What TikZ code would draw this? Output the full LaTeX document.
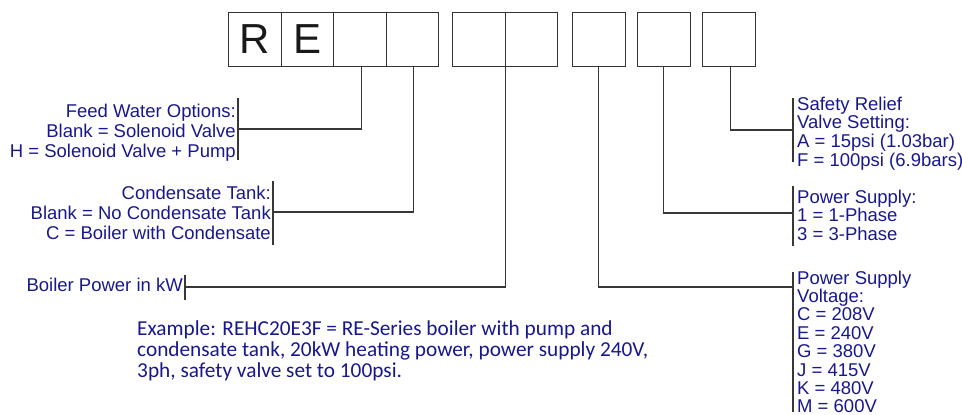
\documentclass[tikz,border=0pt]{standalone}
\usepackage{fontspec}
\setmainfont{Liberation Sans}
\newfontfamily\exfont{Carlito}
\definecolor{lblc}{RGB}{24,24,140}
\definecolor{lnc}{RGB}{55,55,55}
\begin{document}
\begin{tikzpicture}[x=1pt,y=-1pt,
  digit/.style={draw=black!80, line width=1.1pt, minimum width=52.5pt, minimum height=54pt,
    inner sep=0pt, anchor=north west, font=\fontsize{42}{42}\selectfont, text=black!90},
  lbl/.style={text=lblc, font=\fontsize{18.5}{18.7}\selectfont, inner sep=0pt},
  lbll/.style={lbl, font=\fontsize{18.5}{20}\selectfont, align=right},
  lblr/.style={lbl, align=left, anchor=north west},
  conn/.style={draw=lnc, line width=1.2pt},
  bar/.style={draw=lnc, line width=1.2pt}]
\useasboundingbox (0,0) rectangle (962,415);
% code boxes
\node[digit] (b1) at (228,12) {R};
\node[digit] (b2) at (280.5,12) {E};
\node[digit] (b3) at (333,12) {};
\node[digit] (b4) at (385.5,12) {};
\node[digit] (b5) at (452,12) {};
\node[digit] (b6) at (504.5,12) {};
\node[digit] (b7) at (572,12) {};
\node[digit] (b8) at (637,12) {};
\node[digit] (b9) at (702,12) {};
% left labels
\node[lbll, anchor=north east] (fw) at (236,103.5) {Feed Water Options:\\Blank = Solenoid Valve\\H = Solenoid Valve + Pump};
\node[lbll, anchor=north east] (ct) at (271,185.5) {Condensate Tank:\\Blank = No Condensate Tank\\C = Boiler with Condensate};
\node[lbll, anchor=east] (bp) at (183,285) {Boiler Power in kW};
% right labels
\node[lblr] (sr) at (797,96.5) {Safety Relief\\Valve Setting:\\A = 15psi (1.03bar)\\F = 100psi (6.9bars)};
\node[lblr] (ps) at (797,189.5) {Power Supply:\\1 = 1-Phase\\3 = 3-Phase};
\node[lblr, font=\fontsize{18.5}{18.4}\selectfont] (pv) at (797,270.5) {Power Supply\\Voltage:\\C = 208V\\E = 240V\\G = 380V\\J = 415V\\K = 480V\\M = 600V};
% bars
\coordinate (fwc) at (238,129);
\coordinate (ctc) at (273,212);
\coordinate (bpc) at (185,287);
\coordinate (src) at (793,130);
\coordinate (psc) at (793,213);
\coordinate (pvc) at (793,287);
\draw[bar] (238,98) -- (238,160);
\draw[bar] (273,181) -- (273,245);
\draw[bar] (185,275) -- (185,300);
\draw[bar] (793,98) -- (793,162);
\draw[bar] (793,186) -- (793,246);
\draw[bar] (793,272) -- (793,412);
% connectors
\draw[conn] ([xshift=1.5pt]b3.south) |- (fwc);
\draw[conn] ([xshift=1.5pt]b4.south) |- (ctc);
\draw[conn] (b5.south east) |- (bpc);
\draw[conn] (b7.south) |- (pvc);
\draw[conn] (b8.south) |- (psc);
\draw[conn] ([xshift=1.5pt]b9.south) |- (src);
% example
\node[text=lblc, font=\exfont\fontsize{21.3}{21}\selectfont, align=left, anchor=north west, inner sep=0pt] (ex) at (137,321)
  {Example: REHC20E3F = RE-Series boiler with pump and\\condensate tank, 20kW heating power, power supply 240V,\\3ph, safety valve set to 100psi.};
\end{tikzpicture}
\end{document}
